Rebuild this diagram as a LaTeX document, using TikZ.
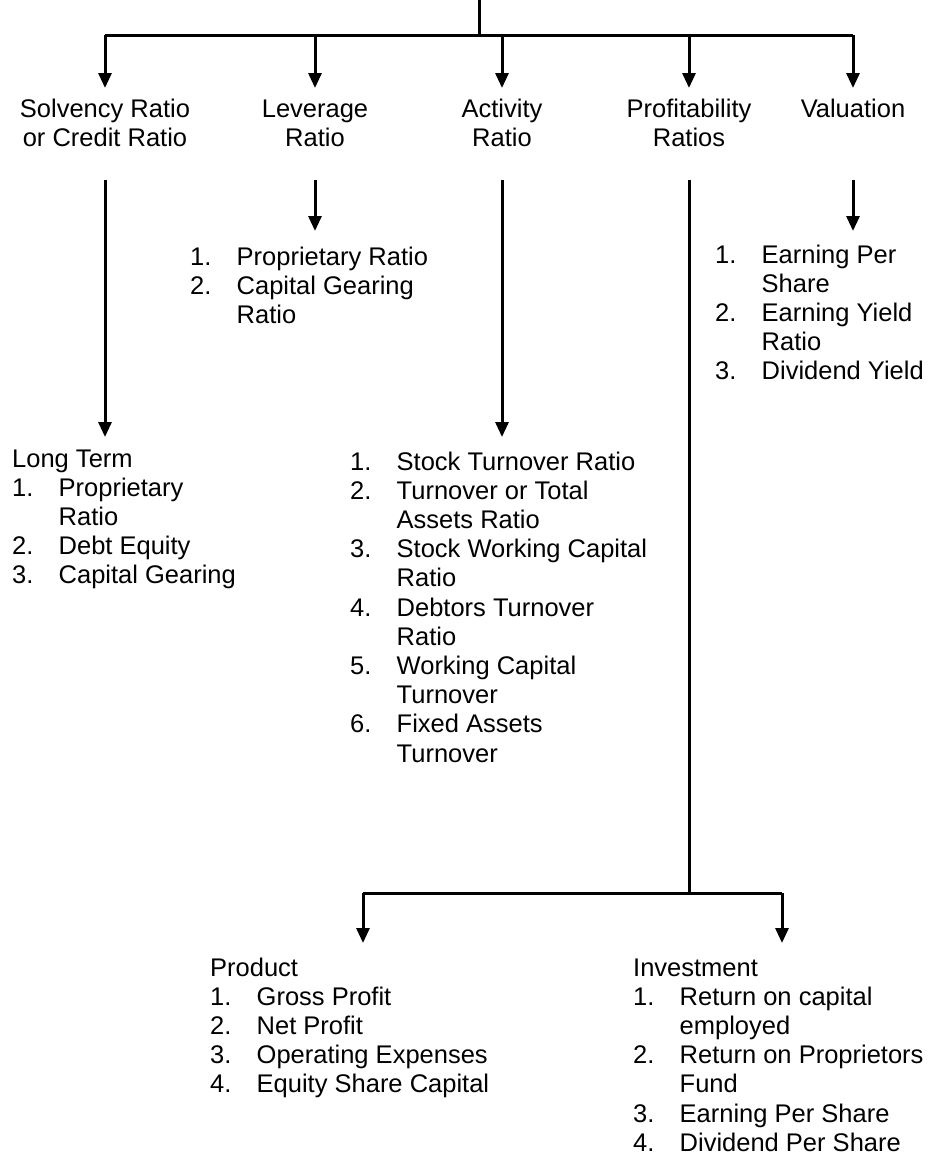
\documentclass[tikz,border=0pt]{standalone}
\usepackage{fontspec}
\setmainfont{Liberation Sans}
\usetikzlibrary{arrows.meta}
\tikzset{
  line/.style={line width=3pt},
  arr/.style={line width=3pt,-{Triangle[width=13pt,length=15pt]}},
  lbl/.style={inner sep=0pt,anchor=base,font=\fontsize{25.5}{29.2}\selectfont},
  lst/.style={inner sep=0pt,anchor=base west,font=\fontsize{25.5}{29.2}\selectfont},
}
\newcommand{\clist}[1]{\begin{tabular}[t]{@{}c@{}}#1\end{tabular}}
\newcommand{\nlist}[1]{\begin{tabular}[t]{@{}p{46.5pt}@{}l@{}}#1\end{tabular}}
\begin{document}
\begin{tikzpicture}[x=1pt,y=-1pt]
\useasboundingbox (0,0) rectangle (930,1160);
% top level
\coordinate (root) at (479,0);
\coordinate (bus) at (479,35);
\coordinate (bL) at (105,35);
\coordinate (bR) at (853,35);
\coordinate (b2) at (315,35);
\coordinate (b3) at (502,35);
\coordinate (b4) at (689,35);
\coordinate (t1) at (105,88);
\coordinate (t2) at (315,88);
\coordinate (t3) at (502,88);
\coordinate (t4) at (689,88);
\coordinate (t5) at (853,88);
\draw[line] (root) -- (bus);
\draw[line] (bL) -- (bR);
\draw[arr] (bL) -- (t1);
\draw[arr] (b2) -- (t2);
\draw[arr] (b3) -- (t3);
\draw[arr] (b4) -- (t4);
\draw[arr] (bR) -- (t5);
% labels
\node[lbl] (solv) at (105,117) {\clist{Solvency Ratio\\or Credit Ratio}};
\node[lbl] (lev) at (315,117) {\clist{Leverage\\Ratio}};
\node[lbl] (act) at (502,117) {\clist{Activity\\Ratio}};
\node[lbl] (prof) at (689,117) {\clist{Profitability\\Ratios}};
\node[lbl] (val) at (853,117) {\clist{Valuation}};
% second level connectors
\coordinate (s1) at (105,180);
\coordinate (s2) at (315,180);
\coordinate (s3) at (502,180);
\coordinate (s4) at (689,180);
\coordinate (s5) at (853,180);
\coordinate (e1) at (105,437);
\coordinate (e2) at (315,231);
\coordinate (e3) at (502,437);
\coordinate (e4) at (689,893);
\coordinate (e5) at (853,231);
\draw[arr] (s1) -- (e1);
\draw[arr] (s2) -- (e2);
\draw[arr] (s3) -- (e3);
\draw[line] (s4) -- (e4);
\draw[arr] (s5) -- (e5);
% lists
\node[lst] (levlist) at (190,265) {\nlist{1.&Proprietary Ratio\\2.&Capital Gearing\\&Ratio}};
\node[lst] (vallist) at (715,263) {\nlist{1.&Earning Per\\&Share\\2.&Earning Yield\\&Ratio\\3.&Dividend Yield}};
\node[lst] (solvlist) at (12,467) {\nlist{\multicolumn{2}{@{}l@{}}{Long Term}\\1.&Proprietary\\&Ratio\\2.&Debt Equity\\3.&Capital Gearing}};
\node[lst] (actlist) at (350,470) {\nlist{1.&Stock Turnover Ratio\\2.&Turnover or Total\\&Assets Ratio\\3.&Stock Working Capital\\&Ratio\\4.&Debtors Turnover\\&Ratio\\5.&Working Capital\\&Turnover\\6.&Fixed Assets\\&Turnover}};
% bottom bus
\coordinate (pL) at (363,893);
\coordinate (pR) at (782,893);
\coordinate (pt1) at (363,943);
\coordinate (pt2) at (782,943);
\draw[line] (pL) -- (pR);
\draw[arr] (pL) -- (pt1);
\draw[arr] (pR) -- (pt2);
\node[lst] (prod) at (210,976) {\nlist{\multicolumn{2}{@{}l@{}}{Product}\\1.&Gross Profit\\2.&Net Profit\\3.&Operating Expenses\\4.&Equity Share Capital}};
\node[lst] (inv) at (633,976) {\nlist{\multicolumn{2}{@{}l@{}}{Investment}\\1.&Return on capital\\&employed\\2.&Return on Proprietors\\&Fund\\3.&Earning Per Share\\4.&Dividend Per Share}};
\end{tikzpicture}
\end{document}
